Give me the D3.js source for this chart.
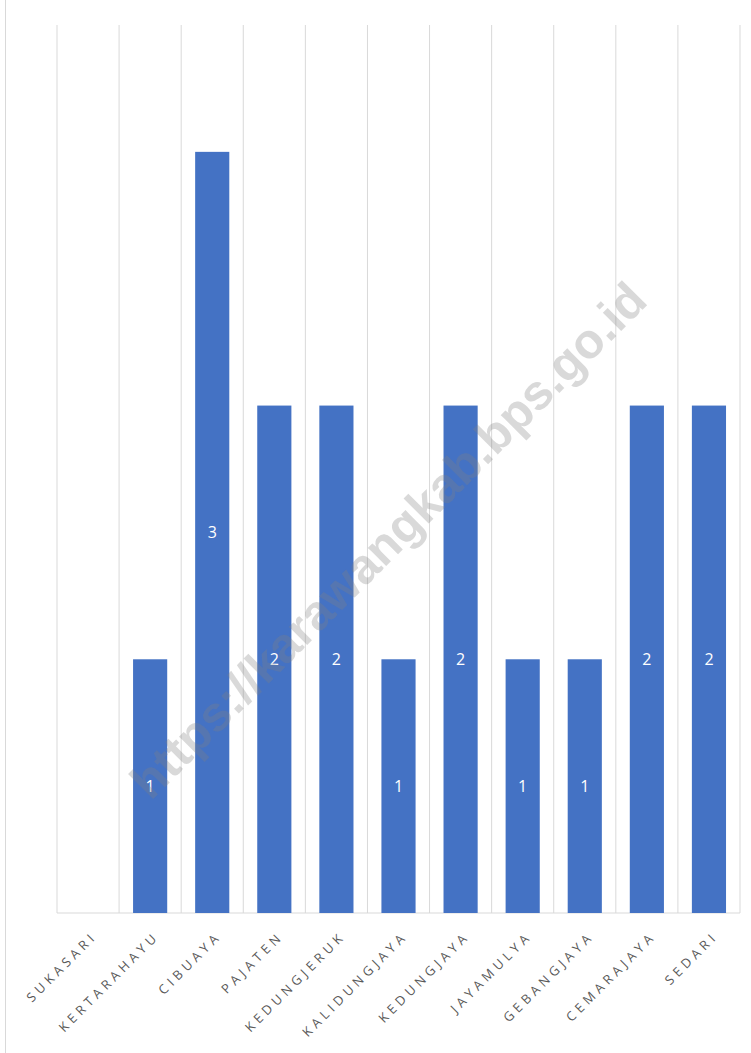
<!DOCTYPE html>
<html lang="en">
<head>
    <meta charset="UTF-8">
    <title>Jumlah per Desa</title>
    <script src="https://d3js.org/d3.v7.min.js"></script>
    <style>
        body { margin: 0; background: #fff; font-family: "Open Sans", "Noto Sans", Arial, sans-serif; }
        .cat-label { font-size: 13px; fill: #595959; letter-spacing: 4.2px; }
        .val-label { font-size: 16px; fill: #fff; }
    </style>
</head>
<body>
<div id="chart"></div>
<script>
    const desa = ["SUKASARI", "KERTARAHAYU", "CIBUAYA", "PAJATEN", "KEDUNGJERUK", "KALIDUNGJAYA",
                  "KEDUNGJAYA", "JAYAMULYA", "GEBANGJAYA", "CEMARAJAYA", "SEDARI"];
    const jumlah = [0, 1, 3, 2, 2, 1, 2, 1, 1, 2, 2];
    const watermark = "https://karawangkab.bps.go.id";

    const W = 751, H = 1053;
    const margin = { top: 25, right: 10, bottom: 140, left: 57 },
          width = 740 - margin.left,
          height = 913 - margin.top;

    const svg = d3.select("#chart").append("svg")
        .attr("width", W)
        .attr("height", H);

    // outer border on the left
    svg.append("line")
        .attr("x1", 5.5).attr("x2", 5.5)
        .attr("y1", 0).attr("y2", H)
        .attr("stroke", "#d9d9d9");

    const g = svg.append("g")
        .attr("transform", `translate(${margin.left},${margin.top})`);

    const x = d3.scaleBand()
        .domain(desa)
        .range([0, width])
        .paddingInner(0.45)
        .paddingOuter(0.225);

    const y = d3.scaleLinear()
        .domain([0, 3.5])
        .range([height, 0]);

    // vertical gridlines at category boundaries
    const bounds = d3.range(desa.length + 1).map(i => i * width / desa.length);
    g.selectAll(".grid")
        .data(bounds)
        .enter().append("line")
        .attr("x1", d => d).attr("x2", d => d)
        .attr("y1", 0).attr("y2", height)
        .attr("stroke", "#d9d9d9")
        .attr("stroke-width", 1);

    // baseline
    g.append("line")
        .attr("x1", 0).attr("x2", width)
        .attr("y1", height).attr("y2", height)
        .attr("stroke", "#d9d9d9");

    g.selectAll(".bar")
        .data(desa)
        .enter().append("rect")
        .attr("x", d => x(d))
        .attr("width", x.bandwidth())
        .attr("y", (d, i) => y(jumlah[i]))
        .attr("height", (d, i) => height - y(jumlah[i]))
        .attr("fill", "#4472C4");

    g.selectAll(".val-label")
        .data(desa.filter((d, i) => jumlah[i] > 0))
        .enter().append("text")
        .attr("class", "val-label")
        .attr("x", d => x(d) + x.bandwidth() / 2)
        .attr("y", d => (y(jumlah[desa.indexOf(d)]) + height) / 2)
        .attr("dy", "0.35em")
        .attr("text-anchor", "middle")
        .text(d => jumlah[desa.indexOf(d)]);

    // category labels, rotated
    g.selectAll(".cat-label")
        .data(desa)
        .enter().append("text")
        .attr("class", "cat-label")
        .attr("text-anchor", "end")
        .attr("transform", d => `translate(${x(d) + x.bandwidth() / 2 + 10},${height + 24}) rotate(-45)`)
        .text(d => d);

    // watermark
    svg.append("text")
        .attr("transform", "translate(388,540) rotate(-45)")
        .attr("text-anchor", "middle")
        .attr("dy", "0.35em")
        .style("font-family", "Arial, 'Liberation Sans', sans-serif")
        .style("font-weight", "bold")
        .style("font-size", "49px")
        .attr("fill", "#808080")
        .attr("fill-opacity", 0.3)
        .text(watermark);
</script>
</body>
</html>
